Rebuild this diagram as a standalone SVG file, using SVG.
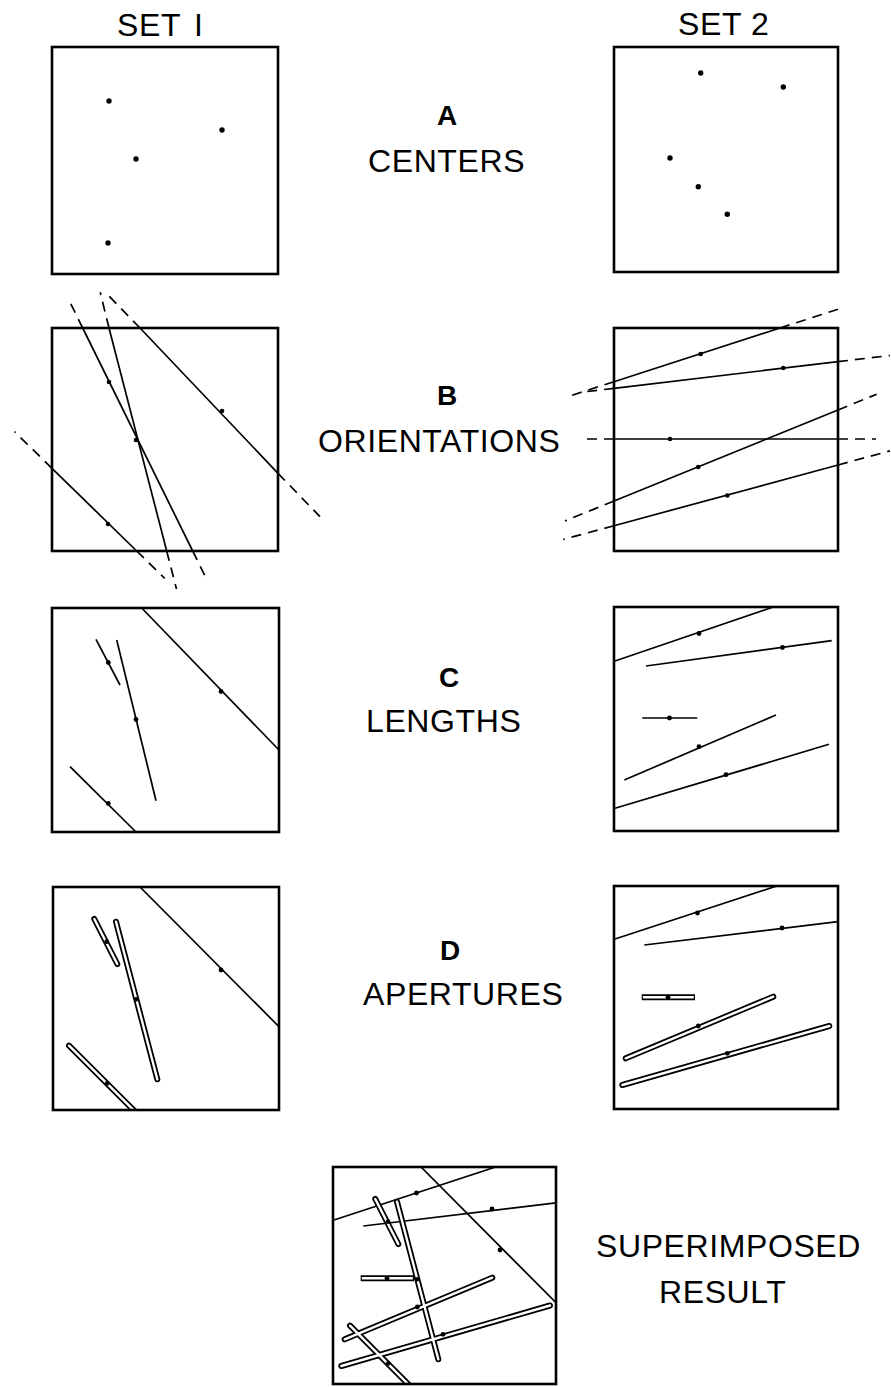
<svg xmlns="http://www.w3.org/2000/svg" width="891" height="1387" viewBox="0 0 891 1387">
<style>
.bg{fill:#fff}
.box{fill:none;stroke:#000;stroke-width:2.6}
.ln{fill:none;stroke:#000;stroke-width:1.7}
.dash{fill:none;stroke:#000;stroke-width:1.7;stroke-dasharray:10 7}
.dot{fill:#000}
.bo{fill:none;stroke:#000;stroke-width:6;stroke-linecap:round}
.bi{fill:none;stroke:#fff;stroke-width:2.4;stroke-linecap:round}
.bos{fill:none;stroke:#000;stroke-width:6;stroke-linecap:butt}
.bis{fill:none;stroke:#fff;stroke-width:2.4;stroke-linecap:butt}
.lbl{font-family:"Liberation Sans",Arial,sans-serif;font-size:32px;fill:#000;letter-spacing:0.6px}
.ltr{font-family:"Liberation Sans",Arial,sans-serif;font-size:28px;font-weight:bold;fill:#000}
</style>
<defs>
<clipPath id="cDL"><rect x="53" y="887" width="226" height="223"/></clipPath>
<clipPath id="cDR"><rect x="614" y="886" width="224" height="223"/></clipPath>
<clipPath id="cS"><rect x="333" y="1167" width="223" height="217"/></clipPath>
</defs>
<rect class="bg" x="0" y="0" width="891" height="1387"/>

<g id="labels">
<text class="lbl" x="117" y="36" style="word-spacing:4px">SET I</text>
<text class="lbl" x="678" y="35">SET 2</text>
<text class="ltr" x="437" y="125">A</text>
<text class="lbl" x="368" y="172">CENTERS</text>
<text class="ltr" x="437" y="405">B</text>
<text class="lbl" x="318" y="452">ORIENTATIONS</text>
<text class="ltr" x="439" y="687">C</text>
<text class="lbl" x="366" y="732">LENGTHS</text>
<text class="ltr" x="440" y="960">D</text>
<text class="lbl" x="363" y="1005">APERTURES</text>
<text class="lbl" x="596" y="1257">SUPERIMPOSED</text>
<text class="lbl" x="659" y="1303">RESULT</text>
</g>

<!-- A: centers -->
<g id="panel-A-set1">
<rect class="box" x="52" y="47" width="226" height="227"/>
<circle class="dot" cx="109" cy="101" r="2.7"/>
<circle class="dot" cx="222" cy="130" r="2.7"/>
<circle class="dot" cx="136" cy="159" r="2.7"/>
<circle class="dot" cx="108" cy="243" r="2.7"/>
</g>
<g id="panel-A-set2">
<rect class="box" x="614" y="47" width="224" height="225"/>
<circle class="dot" cx="700.7" cy="73" r="2.7"/>
<circle class="dot" cx="783.3" cy="87" r="2.7"/>
<circle class="dot" cx="670" cy="158" r="2.7"/>
<circle class="dot" cx="698.3" cy="186.7" r="2.7"/>
<circle class="dot" cx="727.3" cy="214.3" r="2.7"/>
</g>

<!-- B: orientations -->
<g id="panel-B-set1">
<g id="B1-lines">
<line class="ln" x1="82.7" y1="328" x2="192.7" y2="551"/>
<line class="dash" x1="82.7" y1="328" x2="70.4" y2="303"/>
<line class="dash" x1="192.7" y1="551" x2="207.8" y2="581.7"/>
<line class="ln" x1="109" y1="328" x2="166.7" y2="551"/>
<line class="dash" x1="109" y1="328" x2="100.2" y2="292.3"/>
<line class="dash" x1="166.7" y1="551" x2="176.5" y2="589"/>
<line class="ln" x1="140" y1="328" x2="278" y2="473.3"/>
<line class="dash" x1="140" y1="328" x2="106" y2="293"/>
<line class="dash" x1="278" y1="473.3" x2="320" y2="516.7"/>
<line class="ln" x1="52" y1="468.3" x2="136.7" y2="551"/>
<line class="dash" x1="52" y1="468.3" x2="14.5" y2="431.7"/>
<line class="dash" x1="136.7" y1="551" x2="164.7" y2="578.3"/>
</g>
<rect class="box" x="52" y="328" width="226" height="223"/>
<circle class="dot" cx="109" cy="382" r="2.3"/>
<circle class="dot" cx="222" cy="411" r="2.3"/>
<circle class="dot" cx="136" cy="440" r="2.3"/>
<circle class="dot" cx="108" cy="524" r="2.3"/>
</g>
<g id="panel-B-set2">
<g id="B2-lines">
<line class="ln" x1="614" y1="381.7" x2="780" y2="328"/>
<line class="dash" x1="780" y1="328" x2="840" y2="308.6"/>
<line class="dash" x1="614" y1="381.7" x2="566.7" y2="397"/>
<line class="ln" x1="614" y1="388.3" x2="838" y2="361.7"/>
<line class="dash" x1="838" y1="361.7" x2="890" y2="355.5"/>
<line class="dash" x1="614" y1="388.3" x2="583" y2="392"/>
<line class="ln" x1="614" y1="439" x2="838" y2="439"/>
<line class="dash" x1="614" y1="439" x2="580" y2="439"/>
<line class="dash" x1="838" y1="439" x2="876" y2="439"/>
<line class="ln" x1="614" y1="501" x2="838" y2="410"/>
<line class="dash" x1="838" y1="410" x2="876.7" y2="394.2"/>
<line class="dash" x1="614" y1="501" x2="565" y2="520.9"/>
<line class="ln" x1="614" y1="525.7" x2="838" y2="465"/>
<line class="dash" x1="838" y1="465" x2="890" y2="450.9"/>
<line class="dash" x1="614" y1="525.7" x2="563.3" y2="539.4"/>
</g>
<rect class="box" x="614" y="328" width="224" height="223"/>
<circle class="dot" cx="700.7" cy="354" r="2.3"/>
<circle class="dot" cx="783.3" cy="368" r="2.3"/>
<circle class="dot" cx="670" cy="439" r="2.3"/>
<circle class="dot" cx="698.3" cy="467" r="2.3"/>
<circle class="dot" cx="727.3" cy="495.5" r="2.3"/>
</g>

<!-- C: lengths -->
<g id="panel-C-set1">
<line class="ln" x1="96" y1="639.3" x2="120" y2="685"/>
<line class="ln" x1="116.7" y1="640" x2="156" y2="800.7"/>
<line class="ln" x1="141.7" y1="608" x2="279" y2="750"/>
<line class="ln" x1="70" y1="766.7" x2="136" y2="832"/>
<rect class="box" x="52" y="608" width="227" height="224"/>
<circle class="dot" cx="108.3" cy="662.5" r="2.4"/>
<circle class="dot" cx="221" cy="691.5" r="2.4"/>
<circle class="dot" cx="136" cy="719.5" r="2.4"/>
<circle class="dot" cx="108.3" cy="803.5" r="2.4"/>
</g>
<g id="panel-C-set2">
<line class="ln" x1="615" y1="661" x2="773.3" y2="607"/>
<line class="ln" x1="646" y1="666" x2="831.7" y2="640.7"/>
<line class="ln" x1="642.3" y1="718" x2="697.3" y2="718"/>
<line class="ln" x1="624.3" y1="780" x2="776" y2="715"/>
<line class="ln" x1="615" y1="808.3" x2="829" y2="744.3"/>
<rect class="box" x="614" y="607" width="224" height="224"/>
<circle class="dot" cx="699" cy="633.5" r="2.4"/>
<circle class="dot" cx="782.5" cy="647.5" r="2.4"/>
<circle class="dot" cx="669.5" cy="718" r="2.4"/>
<circle class="dot" cx="699" cy="746.7" r="2.4"/>
<circle class="dot" cx="726" cy="774.7" r="2.4"/>
</g>

<!-- D: apertures -->
<g id="panel-D-set1">
<g clip-path="url(#cDL)">
<line class="ln" x1="140" y1="887" x2="279" y2="1026.7"/>
<line class="bo" x1="94.3" y1="919" x2="117.3" y2="964"/>
<line class="bo" x1="116" y1="921.7" x2="157.3" y2="1079.3"/>
<line class="bo" x1="69" y1="1045.7" x2="136" y2="1112.5"/>
<line class="bi" x1="94.3" y1="919" x2="117.3" y2="964"/>
<line class="bi" x1="116" y1="921.7" x2="157.3" y2="1079.3"/>
<line class="bi" x1="69" y1="1045.7" x2="136" y2="1112.5"/>
</g>
<rect class="box" x="53" y="887" width="226" height="223"/>
<circle class="dot" cx="106.7" cy="941.7" r="2.4"/>
<circle class="dot" cx="221" cy="970" r="2.4"/>
<circle class="dot" cx="136" cy="999.3" r="2.4"/>
<circle class="dot" cx="107.3" cy="1083.3" r="2.4"/>
</g>
<g id="panel-D-set2">
<g clip-path="url(#cDR)">
<line class="ln" x1="615" y1="939" x2="776.7" y2="886"/>
<line class="ln" x1="644.3" y1="945" x2="838" y2="921.7"/>
<line class="bos" x1="641.7" y1="997.3" x2="695" y2="997.3"/>
<line class="bo" x1="625.7" y1="1058.3" x2="773.3" y2="996.7"/>
<line class="bo" x1="622.3" y1="1085" x2="829.3" y2="1026"/>
<line class="bis" x1="642.9" y1="997.3" x2="693.8" y2="997.3"/>
<line class="bi" x1="625.7" y1="1058.3" x2="773.3" y2="996.7"/>
<line class="bi" x1="622.3" y1="1085" x2="829.3" y2="1026"/>
</g>
<rect class="box" x="614" y="886" width="224" height="223"/>
<circle class="dot" cx="697.5" cy="913" r="2.4"/>
<circle class="dot" cx="782" cy="928" r="2.4"/>
<circle class="dot" cx="668" cy="997.3" r="2.4"/>
<circle class="dot" cx="698.3" cy="1026" r="2.4"/>
<circle class="dot" cx="727.3" cy="1053.3" r="2.4"/>
</g>

<!-- Superimposed result -->
<g id="panel-superimposed">
<g clip-path="url(#cS)">
<line class="ln" x1="421" y1="1167" x2="556" y2="1302.7"/>
<line class="ln" x1="334" y1="1220" x2="495.7" y2="1167"/>
<line class="ln" x1="363.3" y1="1226" x2="556" y2="1202.8"/>
<line class="bo" x1="375.3" y1="1199" x2="398.3" y2="1244"/>
<line class="bo" x1="397" y1="1201.7" x2="438.3" y2="1359.3"/>
<line class="bo" x1="350" y1="1325.7" x2="418" y2="1394"/>
<line class="bos" x1="360.7" y1="1278.3" x2="414" y2="1278.3"/>
<line class="bo" x1="344.7" y1="1339.3" x2="492.3" y2="1277.7"/>
<line class="bo" x1="341.3" y1="1366" x2="550" y2="1305.5"/>
<line class="bi" x1="375.3" y1="1199" x2="398.3" y2="1244"/>
<line class="bi" x1="397" y1="1201.7" x2="438.3" y2="1359.3"/>
<line class="bi" x1="350" y1="1325.7" x2="418" y2="1394"/>
<line class="bis" x1="361.9" y1="1278.3" x2="412.8" y2="1278.3"/>
<line class="bi" x1="344.7" y1="1339.3" x2="492.3" y2="1277.7"/>
<line class="bi" x1="341.3" y1="1366" x2="550" y2="1305.5"/>
</g>
<rect class="box" x="333" y="1167" width="223" height="217"/>
<circle class="dot" cx="388" cy="1221.7" r="2.4"/>
<circle class="dot" cx="500" cy="1250" r="2.4"/>
<circle class="dot" cx="417" cy="1279.3" r="2.4"/>
<circle class="dot" cx="388.3" cy="1363.3" r="2.4"/>
<circle class="dot" cx="416.5" cy="1193" r="2.4"/>
<circle class="dot" cx="492" cy="1209" r="2.4"/>
<circle class="dot" cx="387" cy="1278.3" r="2.4"/>
<circle class="dot" cx="417.3" cy="1307" r="2.4"/>
<circle class="dot" cx="443" cy="1334.3" r="2.4"/>
</g>
</svg>
